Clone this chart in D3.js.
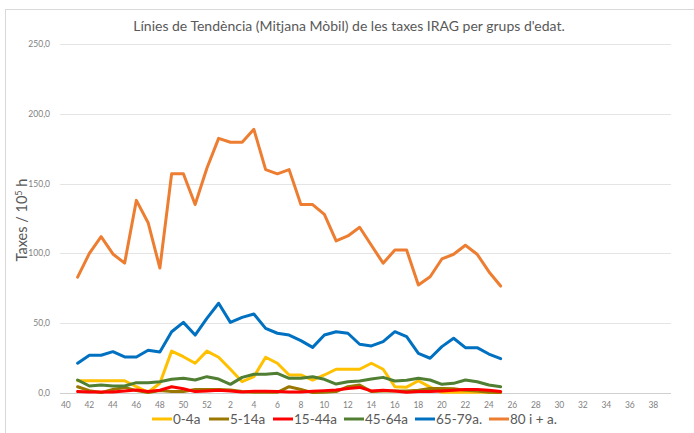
<!DOCTYPE html>
<html>
<head>
<meta charset="utf-8">
<script src="https://cdn.jsdelivr.net/npm/d3@7"></script>
<style>
	body { margin: 0; background: #fff; }
	.vis { width: 694px; height: 433px; }
	text { font-family: Lato, "Open Sans", sans-serif; }
</style>
</head>
<body>
<div class="vis"></div>
<script>

//************//
//    DATA    //
//************//

// epidemiological weeks 40..52 then 1..39
var weeks = [40, 41, 42, 43, 44, 45, 46, 47, 48, 49, 50, 51, 52,
	1, 2, 3, 4, 5, 6, 7, 8, 9, 10, 11, 12, 13, 14, 15, 16, 17, 18, 19,
	20, 21, 22, 23, 24, 25, 26, 27, 28, 29, 30, 31, 32, 33, 34, 35, 36, 37, 38, 39];

// values from week 41 to week 25
var age0_4 = [8.8, 8.8, 8.8, 8.8, 8.8, 4.5, 0.5, 7, 30, 26, 21.3, 30,
	25.6, 17, 8.1, 11.7, 25.6, 21.3, 12.9, 12.9, 9.3, 12.9, 17, 17, 17, 21.3, 17,
	4.5, 4.2, 8.8, 4.2, 0.5, 0.5, 0.5, 0.5, 0.5, 0.3];
var age5_14 = [4.5, 1.7, 0.3, 2.5, 4, 1.7, 0.3, 1.7, 1, 1, 2.5, 2.5,
	2.5, 2.1, 1, 0.5, 0.5, 0.5, 4.5, 2.5, 0.3, 0.5, 1, 4.5, 5.7, 1, 1.5,
	1.5, 1.5, 2, 3.3, 3.3, 3, 2, 1.5, 0.5, 0.3];
var age15_44 = [1, 0.8, 0.8, 0.8, 1.5, 2.1, 1, 2, 4.5, 3, 1, 1.5,
	2, 1.5, 0.8, 1.2, 1.2, 1, 0.8, 0.8, 1.2, 1.7, 2.1, 3.3, 4, 1.5, 2,
	1.5, 0.5, 1, 1, 1.5, 2, 2.5, 2.5, 2, 1];
var age45_64 = [9.3, 5, 5.7, 5, 5, 7.4, 7.4, 8.1, 9.8, 10.5, 9.3, 11.7,
	10, 6.2, 11.2, 13.4, 13.4, 14.1, 10.5, 10.5, 11.7, 9.8, 6.4, 8.1, 8.6, 10, 11.2,
	8.6, 9.1, 10.5, 9.3, 6.2, 6.9, 9.3, 8.1, 5.7, 4.5];
var age65_79 = [21.3, 27, 27, 29.6, 25.8, 25.8, 30.6, 29.4, 43.9, 50.6, 41.5, 53.5,
	64.3, 50.6, 54.2, 56.6, 46.3, 42.8, 41.5, 37.5, 32.7, 41.5, 43.9, 42.8, 34.9, 33.7, 36.8,
	43.9, 40.3, 28.4, 24.9, 33.2, 39.2, 32.5, 32.5, 27.9, 24.6];
var age80 = [83, 100, 112, 99.6, 93, 138, 122, 89.5, 157, 157, 135, 161,
	182.4, 179.6, 179.6, 188.9, 160, 157, 160, 135, 135, 128, 109, 112.5, 118.7, 105.8, 93,
	102.4, 102.4, 77.4, 83.3, 96, 99.4, 105.8, 99.4, 86.9, 76.6];

var seriesNames = ["0-4a", "5-14a", "15-44a", "45-64a", "65-79a.", "80 i + a."];
var seriesValues = [age0_4, age5_14, age15_44, age45_64, age65_79, age80];
var seriesColours = ["#FFC000", "#9A7700", "#FF0000", "#507E32", "#0070C0", "#ED7D31"];

var yTicks = [0, 50, 100, 150, 200, 250];


//********************//
//  SVG VARIABLES     //
//********************//

var width = 694, height = 433;

var svg = d3.select(".vis").append("svg")
	.attr("width", width)
	.attr("height", height);

var plot = { "left" : 60, "right" : 671, "top" : 44, "bottom" : 393 };

// outer chart border (runs off the picture right and bottom)
svg.append("rect")
	.attr("x", 5.5).attr("y", 9.5)
	.attr("width", 720).attr("height", 460)
	.attr("fill", "none")
	.attr("stroke", "#d9d9d9");

var x = d3.scaleBand()
	.domain(d3.range(weeks.length))
	.range([plot.left, plot.right]);

var y = d3.scaleLinear()
	.domain([0, 250])
	.range([plot.bottom, plot.top]);

var fmt = function(v) { return d3.format(".1f")(v).replace(".", ","); };

// gridlines
svg.append("g").selectAll("line")
	.data(yTicks)
	.enter().append("line")
	.attr("x1", plot.left).attr("x2", plot.right)
	.attr("y1", function(d) { return Math.round(y(d)) + 0.5; })
	.attr("y2", function(d) { return Math.round(y(d)) + 0.5; })
	.attr("stroke", function(d) { return d === 0 ? "#d0d0d0" : "#e4e4e4"; })
	.attr("stroke-width", 1);

// y tick labels
svg.append("g").selectAll("text")
	.data(yTicks)
	.enter().append("text")
	.attr("x", plot.left - 10)
	.attr("y", function(d) { return y(d) + 3; })
	.attr("text-anchor", "end")
	.attr("font-size", 8.5)
	.attr("fill", "#7f7f7f")
	.text(fmt);

// x tick labels, every second week
svg.append("g").selectAll("text")
	.data(weeks.filter(function(d, i) { return i % 2 === 0; }))
	.enter().append("text")
	.attr("x", function(d) { return x(weeks.indexOf(d)) + x.bandwidth() / 2; })
	.attr("y", 408)
	.attr("text-anchor", "middle")
	.attr("font-size", 8.5)
	.attr("fill", "#7f7f7f")
	.text(function(d) { return d; });

// title
svg.append("text")
	.attr("x", 349)
	.attr("y", 31)
	.attr("text-anchor", "middle")
	.attr("font-size", 14)
	.attr("fill", "#595959")
	.text("Línies de Tendència (Mitjana Mòbil) de les taxes IRAG per grups d'edat.");

// y axis title
var yTitle = svg.append("text")
	.attr("transform", "translate(27,220) rotate(-90)")
	.attr("text-anchor", "middle")
	.attr("font-size", 14.5)
	.attr("fill", "#595959");
yTitle.append("tspan").text("Taxes / 10");
yTitle.append("tspan").attr("font-size", 9).attr("dy", -5).text("5");
yTitle.append("tspan").attr("dy", 5).text(" h");

// lines, starting at week 41 (index 1)
var line = d3.line()
	.x(function(d, i) { return x(i + 1) + x.bandwidth() / 2; })
	.y(function(d) { return y(d); });

var lines = svg.append("g");
for (var s = 0; s < seriesValues.length; s++)
{
	lines.append("path")
		.datum(seriesValues[s])
		.attr("d", line)
		.attr("fill", "none")
		.attr("stroke", seriesColours[s])
		.attr("stroke-width", 3)
		.attr("stroke-linejoin", "round")
		.attr("stroke-linecap", "round");
}

// legend
var legendX = [152, 209, 273, 344, 415, 489];
var legend = svg.append("g");
for (var k = 0; k < seriesNames.length; k++)
{
	legend.append("line")
		.attr("x1", legendX[k]).attr("x2", legendX[k] + 20)
		.attr("y1", 419).attr("y2", 419)
		.attr("stroke", seriesColours[k])
		.attr("stroke-width", 3);
	legend.append("text")
		.attr("x", legendX[k] + 21)
		.attr("y", 424)
		.attr("font-size", 13.5)
		.attr("fill", "#595959")
		.text(seriesNames[k]);
}
</script>
</body>
</html>
